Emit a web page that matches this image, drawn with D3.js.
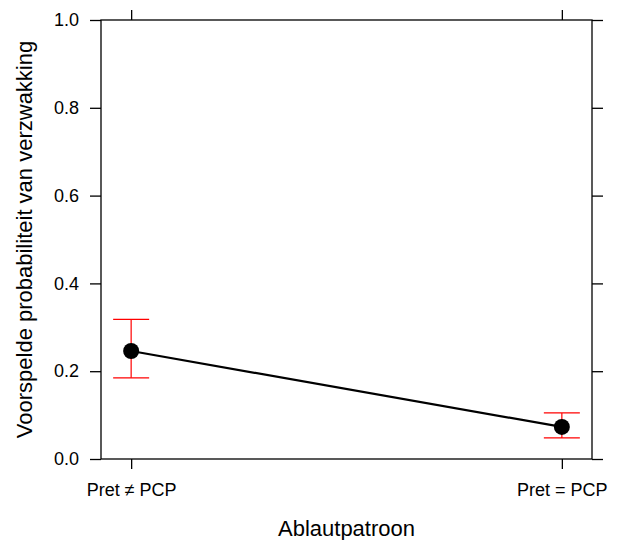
<!DOCTYPE html>
<meta charset="utf-8">
<style>
    body { margin: 0; background: #fff; }
    text { font-family: "Liberation Sans", Arial, sans-serif; fill: #000; }
</style>
<body>
<div id="chart"></div>
<script src="https://d3js.org/d3.v7.min.js"></script>
<script>
    var categories = ["Pret \u2260 PCP", "Pret = PCP"];
    var fitValues = [0.246, 0.073];
    var lowerValues = [0.185, 0.048];
    var upperValues = [0.318, 0.105];
    var yTicks = [0, 0.2, 0.4, 0.6, 0.8, 1.0];

    var width = 621,
        height = 540;
    // panel edges (window.top is reserved, so no "top" here)
    var padL = 101, padR = 592, padT = 20, padB = 459;

    var svg = d3.select("#chart").append("svg")
        .attr("width", width)
        .attr("height", height);

    var x = d3.scalePoint()
        .domain(categories)
        .range([padL, padR])
        .padding(0.07);

    var y = d3.scaleLinear()
        .domain([0, 1])
        .range([padB, padT]);

    var data = categories.map(function (c, i) {
        return { cat: c, fit: fitValues[i], lo: lowerValues[i], hi: upperValues[i] };
    });

    // axes on all four sides, lattice style
    var axisLeft = d3.axisLeft(y).tickValues(yTicks).tickSize(11).tickPadding(11)
        .tickFormat(d3.format(".1f"));
    var axisRight = d3.axisRight(y).tickValues(yTicks).tickSize(11).tickFormat("");
    var axisBottom = d3.axisBottom(x).tickSize(10).tickPadding(14);
    var axisTop = d3.axisTop(x).tickSize(10).tickFormat("");

    function style(g) {
        g.select(".domain").remove();
        g.selectAll(".tick line").attr("stroke", "#000").attr("stroke-width", 1.3);
        g.selectAll(".tick text").style("font-size", "18px").attr("fill", "#000");
    }

    svg.append("g").attr("transform", "translate(" + padL + ",0)").call(axisLeft).call(style);
    svg.append("g").attr("transform", "translate(" + padR + ",0)").call(axisRight).call(style);
    svg.append("g").attr("transform", "translate(0," + padB + ")").call(axisBottom).call(style);
    svg.append("g").attr("transform", "translate(0," + padT + ")").call(axisTop).call(style);

    svg.append("rect")
        .attr("x", padL).attr("y", padT)
        .attr("width", padR - padL).attr("height", padB - padT)
        .attr("fill", "none").attr("stroke", "#000").attr("stroke-width", 1.3);

    // error bars
    var eb = svg.append("g").attr("stroke", "#ff0000").attr("stroke-width", 1.2);
    eb.selectAll(".v").data(data).enter().append("line")
        .attr("x1", function (d) { return x(d.cat); })
        .attr("x2", function (d) { return x(d.cat); })
        .attr("y1", function (d) { return y(d.lo); })
        .attr("y2", function (d) { return y(d.hi); });
    ["lo", "hi"].forEach(function (k) {
        eb.selectAll(".c" + k).data(data).enter().append("line")
            .attr("x1", function (d) { return x(d.cat) - 18; })
            .attr("x2", function (d) { return x(d.cat) + 18; })
            .attr("y1", function (d) { return y(d[k]); })
            .attr("y2", function (d) { return y(d[k]); });
    });

    // line + points
    svg.append("path")
        .datum(data)
        .attr("fill", "none")
        .attr("stroke", "#000")
        .attr("stroke-width", 2.2)
        .attr("d", d3.line()
            .x(function (d) { return x(d.cat); })
            .y(function (d) { return y(d.fit); }));

    svg.selectAll(".pt").data(data).enter().append("circle")
        .attr("cx", function (d) { return x(d.cat); })
        .attr("cy", function (d) { return y(d.fit); })
        .attr("r", 8)
        .attr("fill", "#000");

    // axis titles
    svg.append("text")
        .attr("x", (padL + padR) / 2)
        .attr("y", 536)
        .attr("text-anchor", "middle")
        .style("font-size", "22px")
        .text("Ablautpatroon");

    svg.append("text")
        .attr("transform", "translate(32," + ((padT + padB) / 2) + ") rotate(-90)")
        .attr("text-anchor", "middle")
        .style("font-size", "22px")
        .text("Voorspelde probabiliteit van verzwakking");
</script>
</body>
